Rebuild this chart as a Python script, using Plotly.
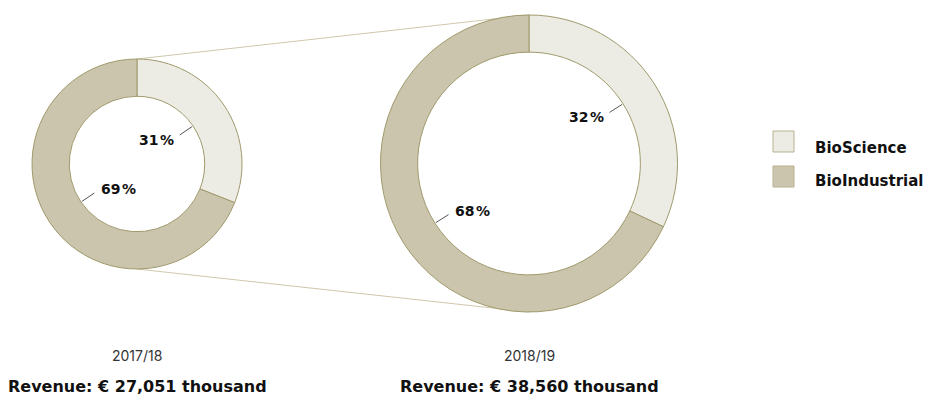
import math
import plotly.graph_objects as go

W, H = 926, 399

# Data
segments = ["BioScience", "BioIndustrial"]
years = ["2017/18", "2018/19"]
shares = [[31, 69], [32, 68]]          # percent of revenue per segment
revenue_k = [27051, 38560]             # revenue in € thousand
colors = ["#EDECE4", "#CBC5AD"]

# Layout geometry (pixels)
centers = [(137, 164), (529, 163.5)]
outer_r = [105, 148.5]
holes = [0.645, 0.75]
BOLD_FONT = "DejaVu Sans"
THIN_FONT = "Inter"
OUTLINE = "#A09A6C"


def px(x):
    return x / W


def py(y):
    return 1 - y / H


fig = go.Figure()
shapes = []
annotations = []

# Connector lines between the two rings (top and bottom tangents)
(c0x, c0y), (c1x, c1y) = centers
for sgn in (-1, 1):
    shapes.append(dict(
        type="line", xref="paper", yref="paper",
        x0=px(c0x), y0=py(c0y + sgn * outer_r[0]),
        x1=px(c1x), y1=py(c1y + sgn * outer_r[1]),
        line=dict(color="#CFC8AC", width=1), layer="below",
    ))

for i, (vals, (cx, cy), r, hole) in enumerate(zip(shares, centers, outer_r, holes)):
    fig.add_trace(go.Pie(
        labels=segments, values=vals, hole=hole, sort=False,
        direction="clockwise", rotation=0,
        marker=dict(colors=colors, line=dict(color=OUTLINE, width=1)),
        textinfo="none", hoverinfo="label+percent", showlegend=False,
        domain=dict(x=[px(cx - r), px(cx + r)], y=[py(cy + r), py(cy - r)]),
    ))

    # Percentage labels inside the hole with short leader lines
    r_in = r * hole
    total = sum(vals)
    acc = 0
    for v in vals:
        mid = (acc + v / 2) / total
        acc += v
        th = 2 * math.pi * mid
        dx, dy = math.sin(th), -math.cos(th)
        x1, y1 = cx + (r_in - 1) * dx, cy + (r_in - 1) * dy
        x0, y0 = cx + (r_in - 16) * dx, cy + (r_in - 16) * dy
        shapes.append(dict(
            type="line", xref="paper", yref="paper",
            x0=px(x0), y0=py(y0), x1=px(x1), y1=py(y1),
            line=dict(color="#555555", width=1),
        ))
        if dx > 0:
            tx, ty, anchor = x0 - 4, y0 + 5, "right"
        else:
            tx, ty, anchor = x0 + 5, y0 - 4, "left"
        annotations.append(dict(
            xref="paper", yref="paper", x=px(tx), y=py(ty),
            xanchor=anchor, yanchor="middle", showarrow=False,
            text=f"<b>{v}\u200a%</b>",
            font=dict(family=BOLD_FONT, size=14, color="#111111"),
        ))

    # Year and revenue captions
    annotations.append(dict(
        xref="paper", yref="paper", x=px(cx), y=py(355),
        xanchor="center", yanchor="middle", showarrow=False,
        text=years[i], font=dict(family=THIN_FONT, size=14, color="#333333"),
    ))
    annotations.append(dict(
        xref="paper", yref="paper", x=px(cx), y=py(386),
        xanchor="center", yanchor="middle", showarrow=False,
        text=f"<b>Revenue: € {revenue_k[i]:,} thousand</b>",
        font=dict(family=BOLD_FONT, size=16, color="#111111"),
    ))

# Legend
for j, (name, col) in enumerate(zip(segments, colors)):
    top = 131 + j * 35
    shapes.append(dict(
        type="rect", xref="paper", yref="paper",
        x0=px(773), x1=px(794), y0=py(top + 21), y1=py(top),
        fillcolor=col, line=dict(color="#B8B192", width=1),
    ))
    annotations.append(dict(
        xref="paper", yref="paper", x=px(813), y=py(148 + j * 33),
        xanchor="left", yanchor="middle", showarrow=False,
        text=f"<b>{name}</b>", font=dict(family=BOLD_FONT, size=15, color="#111111"),
    ))

fig.update_layout(
    width=W, height=H, margin=dict(l=0, r=0, t=0, b=0),
    paper_bgcolor="white", plot_bgcolor="white",
    shapes=shapes, annotations=annotations, showlegend=False,
)

fig.write_html("out.html")
